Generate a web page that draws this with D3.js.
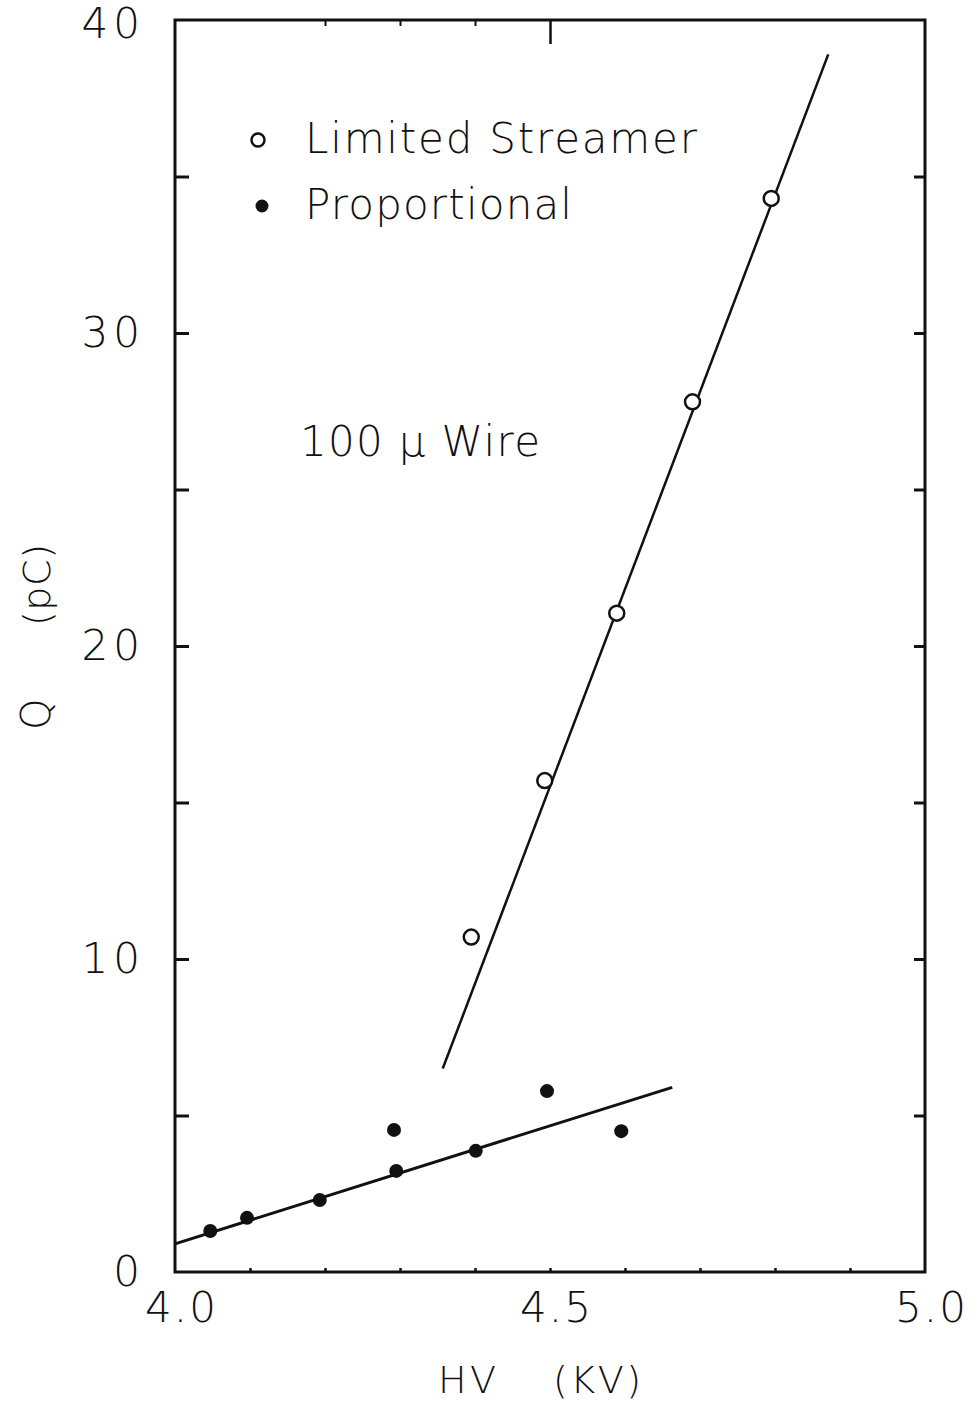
<!DOCTYPE html>
<html>
<head>
<meta charset="utf-8">
<script src="https://cdn.jsdelivr.net/npm/d3@7"></script>
<style>
  html, body { margin: 0; padding: 0; background: #fff; }
  svg { display: block; }
  text { font-family: "DejaVu Sans", sans-serif; fill: #111; }
</style>
</head>
<body>
<svg id="chart" width="978" height="1401"></svg>
<script>
// ---- data ----
const streamerHV = [4.395, 4.493, 4.589, 4.690, 4.795];
const streamerQ  = [10.7, 15.7, 21.05, 27.8, 34.3];
const propHV = [4.047, 4.096, 4.193, 4.295, 4.292, 4.401, 4.496, 4.595];
const propQ  = [1.31, 1.73, 2.30, 3.23, 4.54, 3.87, 5.78, 4.50];
const streamerFitHV = [4.357, 4.871];
const streamerFitQ  = [6.5, 38.9];
const propFitHV = [4.0, 4.663];
const propFitQ  = [0.9, 5.9];
const xTickLabels = [4.0, 4.5, 5.0];
const yTickLabels = [0, 10, 20, 30, 40];
const yMinorTicks = [5, 10, 15, 20, 25, 30, 35];
const xMinorTicks = [4.1, 4.2, 4.3, 4.4, 4.5, 4.6, 4.7, 4.8, 4.9];
const topTicks = [4.2, 4.3, 4.4];
const legendLabels = ["Limited Streamer", "Proportional"];
const noteText = "100 \u03BC Wire";
const xTitleParts = ["HV", "(KV)"];
const yTitleParts = ["Q", "(pC)"];

const svg = d3.select("#chart");
const x = d3.scaleLinear().domain([4, 5]).range([175, 925]);
const y = d3.scaleLinear().domain([0, 40]).range([1272, 20]);
const FW = 300;

// frame
svg.append("rect")
  .attr("x", x(4)).attr("y", y(40))
  .attr("width", x(5) - x(4)).attr("height", y(0) - y(40))
  .attr("fill", "none").attr("stroke", "#111").attr("stroke-width", 3);

// left ticks (inward)
svg.append("g").attr("transform", `translate(${x(4)},0)`)
  .call(d3.axisLeft(y).tickValues(yMinorTicks).tickSizeInner(-14).tickSizeOuter(0).tickFormat(""))
  .call(g => g.select(".domain").remove())
  .call(g => g.selectAll("line").attr("stroke", "#111").attr("stroke-width", 3));
// right ticks (inward)
svg.append("g").attr("transform", `translate(${x(5)},0)`)
  .call(d3.axisRight(y).tickValues(yMinorTicks).tickSizeInner(-11).tickSizeOuter(0).tickFormat(""))
  .call(g => g.select(".domain").remove())
  .call(g => g.selectAll("line").attr("stroke", "#111").attr("stroke-width", 3));
// bottom small ticks
svg.append("g").attr("transform", `translate(0,${y(0)})`)
  .call(d3.axisBottom(x).tickValues(xMinorTicks).tickSizeInner(-4).tickSizeOuter(0).tickFormat(""))
  .call(g => g.select(".domain").remove())
  .call(g => g.selectAll("line").attr("stroke", "#111").attr("stroke-width", 2.5));
// top ticks
svg.append("g").attr("transform", `translate(0,${y(40)})`)
  .call(d3.axisTop(x).tickValues(topTicks).tickSizeInner(-6).tickSizeOuter(0).tickFormat(""))
  .call(g => g.select(".domain").remove())
  .call(g => g.selectAll("line").attr("stroke", "#111").attr("stroke-width", 2));
svg.append("g").attr("transform", `translate(0,${y(40)})`)
  .call(d3.axisTop(x).tickValues([4.5]).tickSizeInner(-24).tickSizeOuter(0).tickFormat(""))
  .call(g => g.select(".domain").remove())
  .call(g => g.selectAll("line").attr("stroke", "#111").attr("stroke-width", 2.5));

// y tick labels
const yl = svg.append("g").attr("transform", `translate(${x(4)},0)`)
  .call(d3.axisLeft(y).tickValues(yTickLabels).tickSize(0).tickPadding(30).tickFormat(d3.format("d")));
yl.select(".domain").remove();
yl.selectAll("text").attr("font-size", 42).attr("font-weight", FW)
  .attr("letter-spacing", 5).attr("fill", "#111")
  .style("font-family", "'DejaVu Sans', sans-serif")
  .attr("dy", d => d === 40 ? "0.42em" : "0.32em");

// x tick labels
const xl = svg.append("g").attr("transform", `translate(0,${y(0)})`)
  .call(d3.axisBottom(x).tickValues(xTickLabels).tickSize(0).tickPadding(20).tickFormat(d3.format(".1f")));
xl.select(".domain").remove();
xl.selectAll("text").attr("font-size", 42).attr("font-weight", FW)
  .attr("letter-spacing", 2).attr("fill", "#111")
  .style("font-family", "'DejaVu Sans', sans-serif")
  .attr("dx", 6);

// axis titles
svg.append("text").attr("x", 438).attr("y", 1393)
  .attr("font-size", 38).attr("font-weight", FW)
  .attr("textLength", 58).attr("lengthAdjust", "spacing")
  .text(xTitleParts[0]);
svg.append("text").attr("x", 553).attr("y", 1393)
  .attr("font-size", 38).attr("font-weight", FW)
  .attr("textLength", 88).attr("lengthAdjust", "spacing")
  .text(xTitleParts[1]);
svg.append("text")
  .attr("transform", "translate(50,730) rotate(-90)")
  .attr("font-size", 40).attr("font-weight", FW)
  .text(yTitleParts[0]);
svg.append("text")
  .attr("transform", "translate(50,626) rotate(-90)")
  .attr("font-size", 38).attr("font-weight", FW)
  .attr("textLength", 82).attr("lengthAdjust", "spacing")
  .text(yTitleParts[1]);

// fit lines
const line = d3.line().x(d => x(d[0])).y(d => y(d[1]));
svg.append("path").datum(d3.zip(streamerFitHV, streamerFitQ))
  .attr("d", line).attr("fill", "none").attr("stroke", "#111").attr("stroke-width", 2.5);
svg.append("path").datum(d3.zip(propFitHV, propFitQ))
  .attr("d", line).attr("fill", "none").attr("stroke", "#111").attr("stroke-width", 3);

// points
svg.append("g").selectAll("circle").data(d3.zip(streamerHV, streamerQ)).join("circle")
  .attr("cx", d => x(d[0])).attr("cy", d => y(d[1])).attr("r", 7.5)
  .attr("fill", "#fff").attr("stroke", "#111").attr("stroke-width", 2.5);
svg.append("g").selectAll("circle").data(d3.zip(propHV, propQ)).join("circle")
  .attr("cx", d => x(d[0])).attr("cy", d => y(d[1])).attr("r", 7)
  .attr("fill", "#111");

// legend
svg.append("circle").attr("cx", 258).attr("cy", 140).attr("r", 6.5)
  .attr("fill", "#fff").attr("stroke", "#111").attr("stroke-width", 2.5);
svg.append("circle").attr("cx", 262).attr("cy", 206).attr("r", 6.5).attr("fill", "#111");
svg.append("text").attr("x", 305).attr("y", 153).attr("font-size", 42).attr("font-weight", FW)
  .attr("textLength", 392).attr("lengthAdjust", "spacing").text(legendLabels[0]);
svg.append("text").attr("x", 305).attr("y", 219).attr("font-size", 42).attr("font-weight", FW)
  .attr("textLength", 267).attr("lengthAdjust", "spacing").text(legendLabels[1]);
svg.append("text").attr("x", 300).attr("y", 456).attr("font-size", 42).attr("font-weight", FW)
  .attr("textLength", 240).attr("lengthAdjust", "spacing").text(noteText);
</script>
</body>
</html>
